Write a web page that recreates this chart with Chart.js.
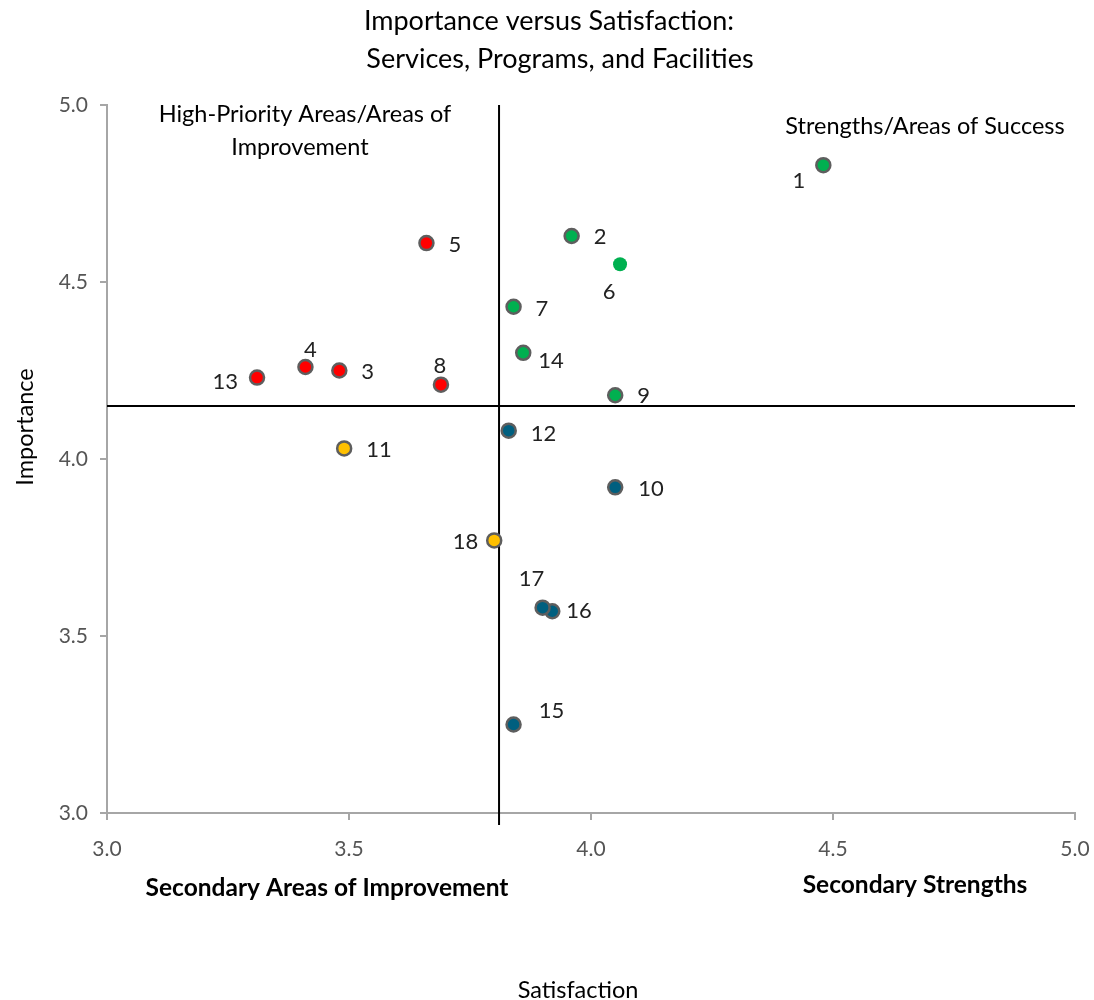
<!DOCTYPE html>
<html>
<head>
<meta charset="utf-8">
<script src="https://cdn.jsdelivr.net/npm/chart.js@4.4.1/dist/chart.umd.min.js"></script>
<style>
  html, body { margin: 0; padding: 0; background: #fff; }
  #wrap { width: 1094px; height: 1000px; }
</style>
</head>
<body>
<div id="wrap"><canvas id="chart"></canvas></div>
<script>
// item numbers and their scores
const ids          = ["1","2","3","4","5","6","7","8","9","10","11","12","13","14","15","16","17","18"];
const satisfaction = [4.48, 3.96, 3.48, 3.41, 3.66, 4.06, 3.84, 3.69, 4.05, 4.05, 3.49, 3.83, 3.31, 3.86, 3.84, 3.92, 3.90, 3.80];
const importance   = [4.83, 4.63, 4.25, 4.26, 4.61, 4.55, 4.43, 4.21, 4.18, 3.92, 4.03, 4.08, 4.23, 4.30, 3.25, 3.57, 3.58, 3.77];
const groups       = ["strength","strength","priority","priority","priority","strength","strength","priority","strength",
                      "secondary","weak","secondary","priority","strength","secondary","secondary","secondary","weak"];

// quadrant split lines
const meanSatisfaction = 3.81;
const meanImportance = 4.15;

const xTicks = [3.0, 3.5, 4.0, 4.5, 5.0];
const yTicks = [3.0, 3.5, 4.0, 4.5, 5.0];

// styling
const groupColors = { strength: "#00B050", priority: "#FF0000", secondary: "#005F7F", weak: "#FFC000" };
// label offset from its point, [dx, dy, align]
const labelOffsets = [
  [-18, 16, "right"], [22, 1, "left"], [22, 1, "left"], [5, -17, "center"], [22, 2, "left"],
  [-11, 28, "center"], [22, 2, "left"], [-1, -19, "center"], [22, 1, "left"], [23, 2, "left"],
  [22, 2, "left"], [22, 3, "left"], [-19, 4, "right"], [15, 8, "left"], [38, -14, "center"],
  [14, 0, "left"], [-11, -29, "center"], [-16, 1, "right"]
];
const FONT = "Lato, 'Open Sans', sans-serif";

const points = ids.map((id, i) => ({ x: satisfaction[i], y: importance[i] }));

const annotate = {
  id: "annotate",
  beforeDatasetsDraw(chart) {
    const { ctx, chartArea: a, scales: { x, y } } = chart;
    const vx = x.getPixelForValue(meanSatisfaction);
    const hy = y.getPixelForValue(meanImportance);
    ctx.save();
    ctx.strokeStyle = "#000";
    ctx.lineWidth = 2;
    ctx.beginPath();
    ctx.moveTo(vx, a.top);
    ctx.lineTo(vx, a.bottom + 12);
    ctx.moveTo(a.left, hy);
    ctx.lineTo(a.right, hy);
    ctx.stroke();
    ctx.restore();
  },
  afterDatasetsDraw(chart) {
    const { ctx } = chart;
    const meta = chart.getDatasetMeta(0);
    ctx.save();
    ctx.fillStyle = "#222";
    ctx.font = "22px " + FONT;
    ctx.textBaseline = "middle";
    meta.data.forEach((pt, i) => {
      const off = labelOffsets[i];
      ctx.textAlign = off[2];
      ctx.fillText(ids[i], pt.x + off[0], pt.y + off[1]);
    });

    ctx.fillStyle = "#000";
    ctx.textAlign = "center";
    ctx.font = "27px " + FONT;
    ctx.fillText("Importance versus Satisfaction:", 549, 21);
    ctx.fillText("Services, Programs, and Facilities", 560, 59);

    ctx.font = "23.5px " + FONT;
    ctx.fillText("High-Priority Areas/Areas of", 305, 114);
    ctx.fillText("Improvement", 300, 147);
    ctx.fillText("Strengths/Areas of Success", 925, 126);

    ctx.font = "bold 24.5px " + FONT;
    ctx.fillText("Secondary Areas of Improvement", 327, 888);
    ctx.fillText("Secondary Strengths", 915, 885);

    ctx.font = "23.5px " + FONT;
    ctx.fillText("Satisfaction", 578, 990);
    ctx.translate(25, 427);
    ctx.rotate(-Math.PI / 2);
    ctx.fillText("Importance", 0, 0);
    ctx.restore();
  }
};

new Chart(document.getElementById("chart"), {
  type: "scatter",
  data: {
    datasets: [{
      label: "Items",
      data: points,
      backgroundColor: groups.map(g => groupColors[g]),
      borderColor: ids.map(id => id === "6" ? groupColors.strength : "#5E5E5E"),
      borderWidth: ids.map(id => id === "6" ? 0 : 2.5),
      pointRadius: 7,
      pointHoverRadius: 7
    }]
  },
  options: {
    responsive: true,
    maintainAspectRatio: false,
    animation: false,
    layout: { padding: { top: 105, right: 19, left: 0, bottom: 0 } },
    plugins: { legend: { display: false }, tooltip: { enabled: false } },
    scales: {
      x: {
        type: "linear",
        min: 3, max: 5,
        afterBuildTicks: s => { s.ticks = xTicks.map(v => ({ value: v })); },
        afterFit: s => { s.height = 187; s.paddingLeft = 0; s.paddingRight = 0; },
        grid: { drawOnChartArea: false, drawTicks: true, tickLength: 7, color: "#A6A6A6", lineWidth: 2 },
        border: { color: "#A6A6A6", width: 2 },
        ticks: { color: "#555", font: { family: FONT, size: 21 }, padding: 17, callback: v => v.toFixed(1) }
      },
      y: {
        type: "linear",
        min: 3, max: 5,
        afterBuildTicks: s => { s.ticks = yTicks.map(v => ({ value: v })); },
        afterFit: s => { s.width = 107; s.paddingTop = 0; s.paddingBottom = 0; },
        grid: { drawOnChartArea: false, drawTicks: true, tickLength: 7, color: "#A6A6A6", lineWidth: 2 },
        border: { color: "#A6A6A6", width: 2 },
        ticks: { color: "#555", font: { family: FONT, size: 21 }, padding: 12, callback: v => v.toFixed(1) }
      }
    }
  },
  plugins: [annotate]
});
</script>
</body>
</html>
